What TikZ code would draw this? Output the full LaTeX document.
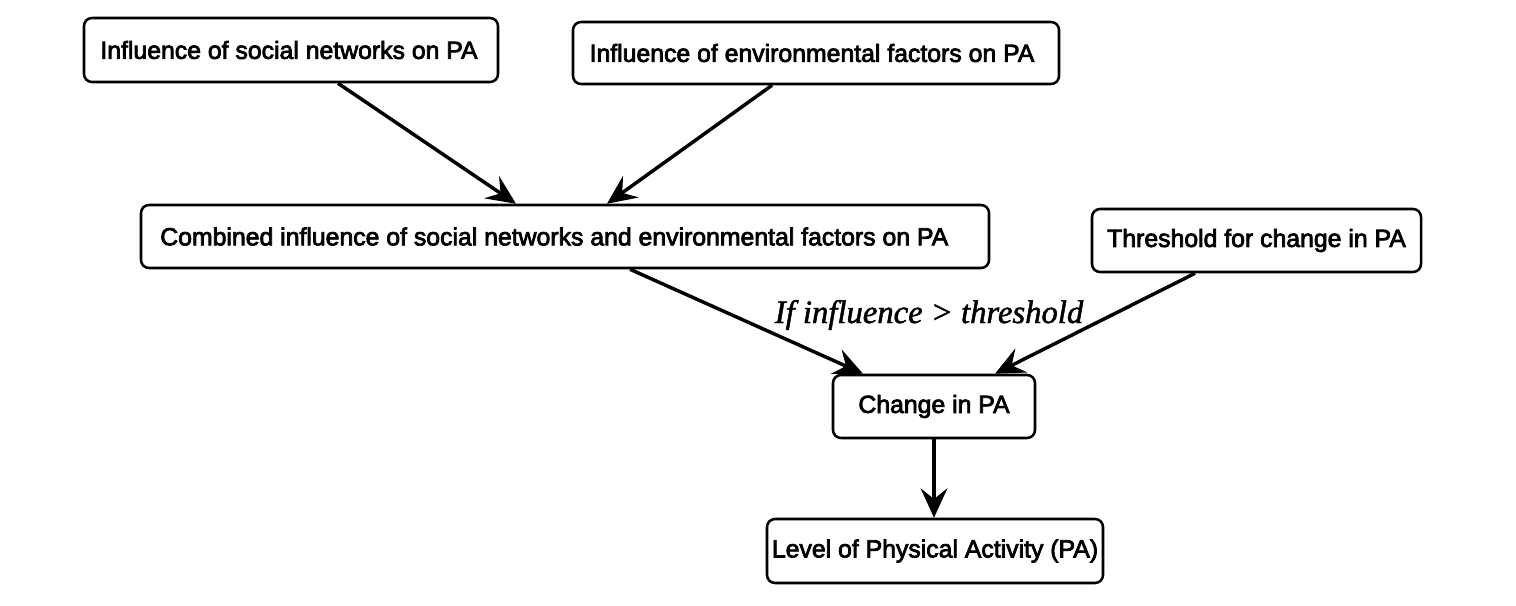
\documentclass[tikz,border=0pt]{standalone}
\usepackage{fontspec}
\setmainfont{Liberation Sans}[BoldFont={Liberation Sans},BoldFeatures={FakeBold=3}]
\newfontfamily\labelfont{Liberation Serif}[ItalicFont={Liberation Serif Italic},ItalicFeatures={FakeBold=1.5}]
\usetikzlibrary{arrows.meta,positioning}
\begin{document}
\begin{tikzpicture}[x=0.75pt,y=-0.75pt,
  box/.style={draw,line width=1.9pt,rounded corners=6pt,inner sep=0pt,
    font=\fontsize{18.6}{22}\selectfont\bfseries,align=center},
  arr/.style={line width=2.6pt,-{Stealth[length=22pt,width=20pt,inset=8pt]}}]
\useasboundingbox (0,0) rectangle (1516,606);
\node[box,minimum width=310.5pt,minimum height=48pt] (b1) at (291,50) {Influence of social networks on PA\hspace*{3pt}};
\node[box,minimum width=364.5pt,minimum height=46.5pt] (b2) at (816,53) {Influence of environmental factors on PA\hspace*{6pt}};
\node[box,minimum width=636pt,minimum height=47.25pt] (b3) at (565,236.5) {Combined influence of social networks and environmental factors on PA\hspace*{16pt}};
\node[box,minimum width=246.75pt,minimum height=47.25pt] (b4) at (1256.5,240.5) {Threshold for change in PA};
\node[box,minimum width=151.5pt,minimum height=47.25pt] (b5) at (934,406.5) {Change in PA};
\node[box,minimum width=252pt,minimum height=48pt] (b6) at (935,551) {Level of Physical Activity (PA)};
\draw[arr] ([xshift=35.25pt]b1.south) -- ([xshift=-36.75pt]b3.north);
\draw[arr] ([xshift=-33pt]b2.south) -- ([xshift=31.5pt]b3.north);
\draw[arr] ([xshift=48.75pt]b3.south) -- ([xshift=-53.25pt]b5.north);
\draw[arr] ([xshift=-46.1pt]b4.south) -- ([xshift=45.75pt]b5.north);
\draw[arr] (b5.south) -- (b5.south |- b6.north);
\node[anchor=base,inner sep=0pt,font=\labelfont\itshape\fontsize{24.5}{28}\selectfont] (lbl) at (929,323) {If influence > threshold};
\end{tikzpicture}
\end{document}
